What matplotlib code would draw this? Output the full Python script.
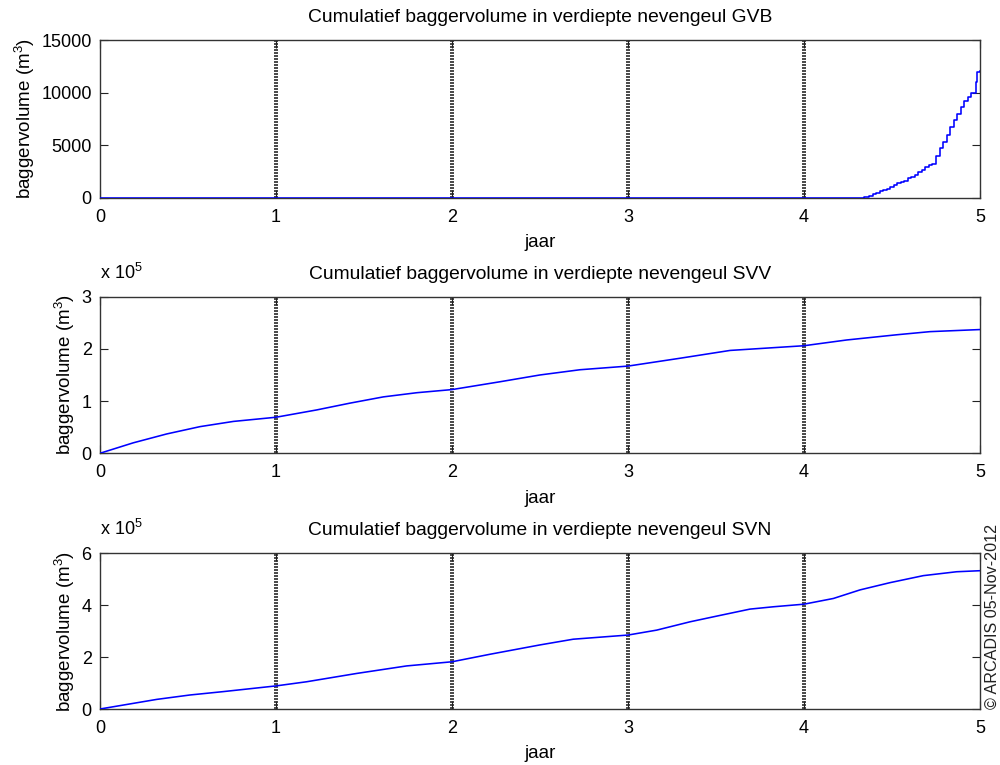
import matplotlib
matplotlib.use("Agg")
import matplotlib.pyplot as plt

plt.rcParams["font.family"] = ["Liberation Sans", "DejaVu Sans"]
plt.rcParams["mathtext.fontset"] = "custom"
plt.rcParams["mathtext.rm"] = "Liberation Sans"
plt.rcParams["mathtext.it"] = "Liberation Sans:italic"
plt.rcParams["lines.scale_dashes"] = False

# GVB: staircase (m3)
gvb_t = [0, 4.318, 4.34, 4.37, 4.39, 4.41, 4.43, 4.45, 4.47, 4.49,
         4.51, 4.53, 4.55, 4.57, 4.59, 4.61, 4.63, 4.65, 4.67, 4.69,
         4.71, 4.73, 4.75, 4.77, 4.79, 4.81, 4.83, 4.85, 4.87, 4.89,
         4.91, 4.93, 4.95, 4.975, 4.985, 5.0]
gvb_v = [0, 20, 60, 200, 380, 480, 620, 780, 900, 1050,
         1250, 1380, 1520, 1650, 1850, 2000, 2200, 2450, 2700, 2950,
         3100, 3250, 4000, 4700, 5300, 6000, 6700, 7400, 8000, 8600,
         9200, 9600, 10000, 11000, 12000, 12100]

# SVV (x 1e5 m3)
svv_t = [0, 0.189, 0.379, 0.568, 0.758, 1.0, 1.231, 1.42, 1.61, 1.8, 2.0,
         2.273, 2.5, 2.727, 3.0, 3.295, 3.58, 4.0, 4.242, 4.527, 4.716, 5.0]
svv_v = [0, 0.20, 0.37, 0.51, 0.61, 0.69, 0.83, 0.96, 1.08, 1.16, 1.22,
         1.37, 1.50, 1.60, 1.67, 1.82, 1.97, 2.06, 2.17, 2.27, 2.33, 2.37]

# SVN (x 1e5 m3)
svn_t = [0, 0.322, 0.511, 0.70, 1.0, 1.174, 1.458, 1.742, 2.0, 2.216, 2.5,
         2.689, 3.0, 3.163, 3.352, 3.504, 3.693, 3.826, 4.0, 4.167, 4.318,
         4.489, 4.678, 4.867, 5.0]
svn_v = [0, 0.37, 0.54, 0.67, 0.89, 1.05, 1.37, 1.66, 1.82, 2.11, 2.47,
         2.69, 2.85, 3.04, 3.36, 3.58, 3.85, 3.94, 4.04, 4.26, 4.59,
         4.87, 5.14, 5.29, 5.33]

years = [1, 2, 3, 4]
titles = ["Cumulatief baggervolume in verdiepte nevengeul GVB",
          "Cumulatief baggervolume in verdiepte nevengeul SVV",
          "Cumulatief baggervolume in verdiepte nevengeul SVN"]
ylims = [(0, 15000), (0, 3), (0, 6)]
yticks = [[0, 5000, 10000, 15000], [0, 1, 2, 3], [0, 2, 4, 6]]

fig = plt.figure(figsize=(10, 7.65), dpi=100)
boxes = [(0.1, 0.7412, 0.88, 0.2065),
         (0.1, 0.4075, 0.88, 0.2047),
         (0.1, 0.0732, 0.88, 0.2035)]
series = [(gvb_t, gvb_v), (svv_t, svv_v), (svn_t, svn_v)]

for i, (box, (t, v)) in enumerate(zip(boxes, series)):
    ax = fig.add_axes(box)
    for yr in years:
        ax.axvline(yr, color="0.3", lw=3.0, ls=(0, (0.8, 0.9)),
                   antialiased=False, zorder=1)
    if i == 0:
        ax.plot(t, v, color="#0000ff", lw=1.15, drawstyle="steps-post", zorder=3)
    else:
        ax.plot(t, v, color="#0000ff", lw=1.15, zorder=3)
    ax.set_xlim(0, 5)
    ax.set_ylim(*ylims[i])
    ax.set_xticks([0, 1, 2, 3, 4, 5])
    ax.set_yticks(yticks[i])
    ax.tick_params(direction="in", length=6, width=0.8, top=True, right=True,
                   labelsize=13, colors="#222222", labelcolor="black")
    ax.tick_params(axis="x", pad=8)
    ax.tick_params(axis="y", pad=6)
    for s in ax.spines.values():
        s.set_color("#333333")
        s.set_linewidth(1.0)
    ax.set_title(titles[i], fontsize=13.9, pad=13)
    ax.set_xlabel("jaar", fontsize=13.5, labelpad=6)
    ax.set_ylabel(r"baggervolume (m$^{\mathregular{3}}$)", fontsize=13.5, labelpad=3)
    if i > 0:
        ax.text(0, 1.09, r"x 10$^{\mathregular{5}}$", transform=ax.transAxes,
                fontsize=13, ha="left", va="bottom")

fig.text(0.992, 0.194, "\u00a9 ARCADIS 05-Nov-2012", rotation=90, fontsize=11.6,
         ha="center", va="center", color="#222222")

fig.savefig("out.png", dpi=100)
